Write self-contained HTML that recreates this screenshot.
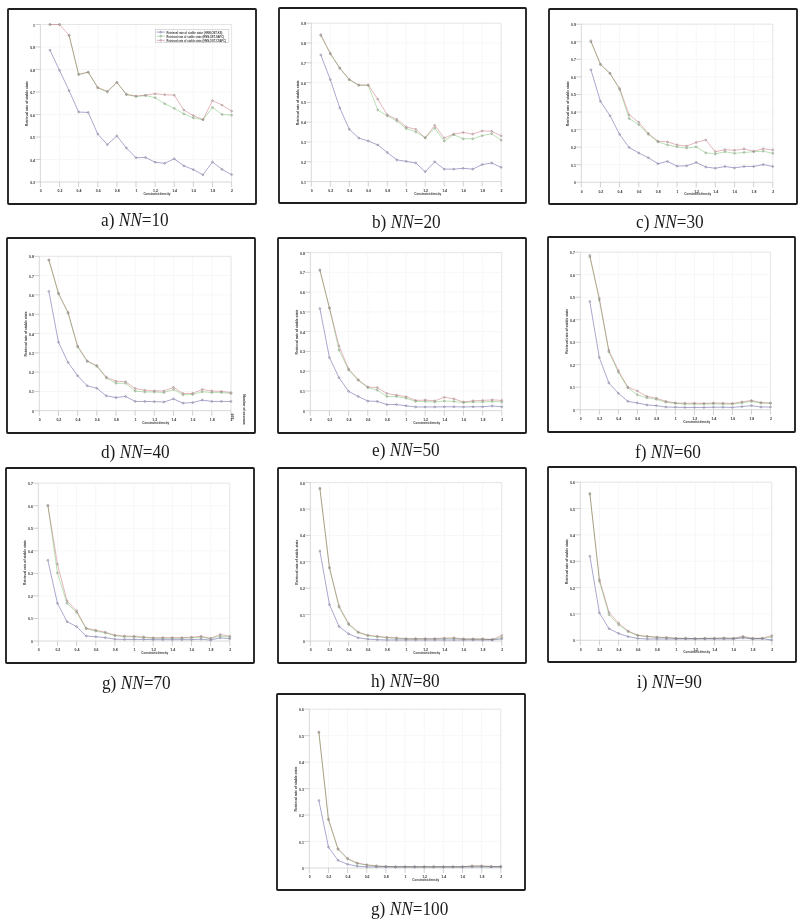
<!DOCTYPE html>
<html><head><meta charset="utf-8"><style>
html,body{margin:0;padding:0;background:#fff}
body{width:803px;height:922px;position:relative;overflow:hidden}
svg{position:absolute;left:0;top:0;will-change:transform}
.gr{stroke:#f7f7f7;stroke-width:1;fill:none}
.ax{stroke:#d4d4d4;stroke-width:0.9;fill:none}
.bx{stroke:#e6e6e6;stroke-width:1;fill:none}
.tk{stroke:#c4c4c4;stroke-width:0.8;fill:none}
.tl{font-family:"Liberation Sans",sans-serif;font-weight:bold;font-size:3.5px;fill:#333}
.al{font-family:"Liberation Sans",sans-serif;font-weight:bold;font-size:3.35px;fill:#333}
.lg{font-family:"Liberation Sans",sans-serif;font-weight:bold;font-size:3.0px;fill:#3a3a3a}
.yl{font-family:"Liberation Sans",sans-serif;font-weight:bold;font-size:3.6px;fill:#333}
.ln{fill:none;stroke-width:1;stroke-linejoin:round;mix-blend-mode:multiply}
.ln.b{stroke:#aaa8d0} .ln.g{stroke:#b8e2b4} .ln.r{stroke:#e6b6bc}
.mk{fill:none;stroke-width:0.75}
.bm{stroke:#9090a4} .gm{stroke:#98a492} .rm{stroke:#a69a9a}
.fr{fill:none;stroke:#1f1f1f;stroke-width:1.85}
.cap{position:absolute;font-family:"Liberation Serif",serif;font-size:18px;line-height:18px;color:#1a1a1a;white-space:nowrap;margin-top:-2.5px;margin-left:-0.6px;transform:scaleX(0.958);transform-origin:0 0}
</style></head><body>
<svg width="803" height="922" viewBox="0 0 803 922">
<g>
<line x1="59.52" y1="24.5" x2="59.52" y2="182" class="gr"/>
<line x1="78.64" y1="24.5" x2="78.64" y2="182" class="gr"/>
<line x1="97.76" y1="24.5" x2="97.76" y2="182" class="gr"/>
<line x1="116.88" y1="24.5" x2="116.88" y2="182" class="gr"/>
<line x1="136" y1="24.5" x2="136" y2="182" class="gr"/>
<line x1="155.12" y1="24.5" x2="155.12" y2="182" class="gr"/>
<line x1="174.24" y1="24.5" x2="174.24" y2="182" class="gr"/>
<line x1="193.36" y1="24.5" x2="193.36" y2="182" class="gr"/>
<line x1="212.48" y1="24.5" x2="212.48" y2="182" class="gr"/>
<line x1="231.6" y1="24.5" x2="231.6" y2="182" class="gr"/>
<line x1="40.4" y1="159.5" x2="231.6" y2="159.5" class="gr"/>
<line x1="40.4" y1="137" x2="231.6" y2="137" class="gr"/>
<line x1="40.4" y1="114.5" x2="231.6" y2="114.5" class="gr"/>
<line x1="40.4" y1="92" x2="231.6" y2="92" class="gr"/>
<line x1="40.4" y1="69.5" x2="231.6" y2="69.5" class="gr"/>
<line x1="40.4" y1="47" x2="231.6" y2="47" class="gr"/>
<line x1="40.4" y1="24.5" x2="231.6" y2="24.5" class="gr"/>
<path d="M40.4 24.5H231.6V182" class="bx"/>
<path d="M40.4 24.5V182H231.6" class="ax"/>
<path d="M40.4 182v5M59.52 182v5M78.64 182v5M97.76 182v5M116.88 182v5M136 182v5M155.12 182v5M174.24 182v5M193.36 182v5M212.48 182v5M231.6 182v5M40.4 182h-5M40.4 159.5h-5M40.4 137h-5M40.4 114.5h-5M40.4 92h-5M40.4 69.5h-5M40.4 47h-5M40.4 24.5h-5" class="tk"/>
<text x="40.8" y="192.3" class="tl" text-anchor="middle">0</text>
<text x="59.92" y="192.3" class="tl" text-anchor="middle">0.2</text>
<text x="79.04" y="192.3" class="tl" text-anchor="middle">0.4</text>
<text x="98.16" y="192.3" class="tl" text-anchor="middle">0.6</text>
<text x="117.28" y="192.3" class="tl" text-anchor="middle">0.8</text>
<text x="136.4" y="192.3" class="tl" text-anchor="middle">1</text>
<text x="155.52" y="192.3" class="tl" text-anchor="middle">1.2</text>
<text x="174.64" y="192.3" class="tl" text-anchor="middle">1.4</text>
<text x="193.76" y="192.3" class="tl" text-anchor="middle">1.6</text>
<text x="212.88" y="192.3" class="tl" text-anchor="middle">1.8</text>
<text x="232" y="192.3" class="tl" text-anchor="middle">2</text>
<text x="35" y="184" class="tl" text-anchor="end">0.3</text>
<text x="35" y="161.5" class="tl" text-anchor="end">0.4</text>
<text x="35" y="139" class="tl" text-anchor="end">0.5</text>
<text x="35" y="116.5" class="tl" text-anchor="end">0.6</text>
<text x="35" y="94" class="tl" text-anchor="end">0.7</text>
<text x="35" y="71.5" class="tl" text-anchor="end">0.8</text>
<text x="35" y="49" class="tl" text-anchor="end">0.9</text>
<text x="35" y="26.5" class="tl" text-anchor="end">1</text>
<text x="156.9" y="195" class="al" text-anchor="middle" textLength="27" lengthAdjust="spacingAndGlyphs">Constraint density</text>
<text transform="translate(28.1,103.65) rotate(-90)" class="yl" text-anchor="middle" textLength="45" lengthAdjust="spacingAndGlyphs">Retrieval rate of stable state</text>
<polyline points="69.08,35.3 78.64,74.67 88.2,72.2 97.76,87.95 107.32,92 116.88,82.55 126.44,94.7 136,96.5 145.56,95.6 155.12,97.62 164.68,103.7 174.24,108.42 183.8,113.83 193.36,117.88 202.92,119.67 212.48,107.52 222.04,114.5 231.6,115.17" class="ln g"/>
<g class="mk gm"><circle cx="49.96" cy="24.5" r="0.9"/><circle cx="59.52" cy="24.5" r="0.9"/><circle cx="69.08" cy="35.3" r="0.9"/><circle cx="78.64" cy="74.67" r="0.9"/><circle cx="88.2" cy="72.2" r="0.9"/><circle cx="97.76" cy="87.95" r="0.9"/><circle cx="107.32" cy="92" r="0.9"/><circle cx="116.88" cy="82.55" r="0.9"/><circle cx="126.44" cy="94.7" r="0.9"/><circle cx="136" cy="96.5" r="0.9"/><circle cx="145.56" cy="95.6" r="0.9"/><circle cx="155.12" cy="97.62" r="0.9"/><circle cx="164.68" cy="103.7" r="0.9"/><circle cx="174.24" cy="108.42" r="0.9"/><circle cx="183.8" cy="113.83" r="0.9"/><circle cx="193.36" cy="117.88" r="0.9"/><circle cx="202.92" cy="119.67" r="0.9"/><circle cx="212.48" cy="107.52" r="0.9"/><circle cx="222.04" cy="114.5" r="0.9"/><circle cx="231.6" cy="115.17" r="0.9"/></g>
<polyline points="49.96,24.5 59.52,24.5 69.08,35.3 78.64,74.22 88.2,72.2 97.76,87.5 107.32,91.33 116.88,82.33 126.44,94.25 136,96.05 145.56,95.15 155.12,93.8 164.68,94.7 174.24,95.15 183.8,110 193.36,115.62 202.92,119.67 212.48,100.55 222.04,105.05 231.6,111.12" class="ln r"/>
<g class="mk rm"><circle cx="49.96" cy="24.5" r="0.9"/><circle cx="59.52" cy="24.5" r="0.9"/><circle cx="69.08" cy="35.3" r="0.9"/><circle cx="78.64" cy="74.22" r="0.9"/><circle cx="88.2" cy="72.2" r="0.9"/><circle cx="97.76" cy="87.5" r="0.9"/><circle cx="107.32" cy="91.33" r="0.9"/><circle cx="116.88" cy="82.33" r="0.9"/><circle cx="126.44" cy="94.25" r="0.9"/><circle cx="136" cy="96.05" r="0.9"/><circle cx="145.56" cy="95.15" r="0.9"/><circle cx="155.12" cy="93.8" r="0.9"/><circle cx="164.68" cy="94.7" r="0.9"/><circle cx="174.24" cy="95.15" r="0.9"/><circle cx="183.8" cy="110" r="0.9"/><circle cx="193.36" cy="115.62" r="0.9"/><circle cx="202.92" cy="119.67" r="0.9"/><circle cx="212.48" cy="100.55" r="0.9"/><circle cx="222.04" cy="105.05" r="0.9"/><circle cx="231.6" cy="111.12" r="0.9"/></g>
<polyline points="49.96,50.15 59.52,70.4 69.08,90.65 78.64,112.02 88.2,112.47 97.76,134.07 107.32,144.65 116.88,135.88 126.44,148.02 136,157.7 145.56,157.47 155.12,162.2 164.68,163.32 174.24,158.82 183.8,165.8 193.36,169.62 202.92,174.8 212.48,161.97 222.04,169.4 231.6,174.57" class="ln b"/>
<g class="mk bm"><circle cx="49.96" cy="50.15" r="0.9"/><circle cx="59.52" cy="70.4" r="0.9"/><circle cx="69.08" cy="90.65" r="0.9"/><circle cx="78.64" cy="112.02" r="0.9"/><circle cx="88.2" cy="112.47" r="0.9"/><circle cx="97.76" cy="134.07" r="0.9"/><circle cx="107.32" cy="144.65" r="0.9"/><circle cx="116.88" cy="135.88" r="0.9"/><circle cx="126.44" cy="148.02" r="0.9"/><circle cx="136" cy="157.7" r="0.9"/><circle cx="145.56" cy="157.47" r="0.9"/><circle cx="155.12" cy="162.2" r="0.9"/><circle cx="164.68" cy="163.32" r="0.9"/><circle cx="174.24" cy="158.82" r="0.9"/><circle cx="183.8" cy="165.8" r="0.9"/><circle cx="193.36" cy="169.62" r="0.9"/><circle cx="202.92" cy="174.8" r="0.9"/><circle cx="212.48" cy="161.97" r="0.9"/><circle cx="222.04" cy="169.4" r="0.9"/><circle cx="231.6" cy="174.57" r="0.9"/></g>
<line x1="330.29" y1="23.2" x2="330.29" y2="181.6" class="gr"/>
<line x1="349.28" y1="23.2" x2="349.28" y2="181.6" class="gr"/>
<line x1="368.27" y1="23.2" x2="368.27" y2="181.6" class="gr"/>
<line x1="387.26" y1="23.2" x2="387.26" y2="181.6" class="gr"/>
<line x1="406.25" y1="23.2" x2="406.25" y2="181.6" class="gr"/>
<line x1="425.24" y1="23.2" x2="425.24" y2="181.6" class="gr"/>
<line x1="444.23" y1="23.2" x2="444.23" y2="181.6" class="gr"/>
<line x1="463.22" y1="23.2" x2="463.22" y2="181.6" class="gr"/>
<line x1="482.21" y1="23.2" x2="482.21" y2="181.6" class="gr"/>
<line x1="501.2" y1="23.2" x2="501.2" y2="181.6" class="gr"/>
<line x1="311.3" y1="161.8" x2="501.2" y2="161.8" class="gr"/>
<line x1="311.3" y1="142" x2="501.2" y2="142" class="gr"/>
<line x1="311.3" y1="122.2" x2="501.2" y2="122.2" class="gr"/>
<line x1="311.3" y1="102.4" x2="501.2" y2="102.4" class="gr"/>
<line x1="311.3" y1="82.6" x2="501.2" y2="82.6" class="gr"/>
<line x1="311.3" y1="62.8" x2="501.2" y2="62.8" class="gr"/>
<line x1="311.3" y1="43" x2="501.2" y2="43" class="gr"/>
<line x1="311.3" y1="23.2" x2="501.2" y2="23.2" class="gr"/>
<path d="M311.3 23.2H501.2V181.6" class="bx"/>
<path d="M311.3 23.2V181.6H501.2" class="ax"/>
<path d="M311.3 181.6v5M330.29 181.6v5M349.28 181.6v5M368.27 181.6v5M387.26 181.6v5M406.25 181.6v5M425.24 181.6v5M444.23 181.6v5M463.22 181.6v5M482.21 181.6v5M501.2 181.6v5M311.3 181.6h-5M311.3 161.8h-5M311.3 142h-5M311.3 122.2h-5M311.3 102.4h-5M311.3 82.6h-5M311.3 62.8h-5M311.3 43h-5M311.3 23.2h-5" class="tk"/>
<text x="311.7" y="191.9" class="tl" text-anchor="middle">0</text>
<text x="330.69" y="191.9" class="tl" text-anchor="middle">0.2</text>
<text x="349.68" y="191.9" class="tl" text-anchor="middle">0.4</text>
<text x="368.67" y="191.9" class="tl" text-anchor="middle">0.6</text>
<text x="387.66" y="191.9" class="tl" text-anchor="middle">0.8</text>
<text x="406.65" y="191.9" class="tl" text-anchor="middle">1</text>
<text x="425.64" y="191.9" class="tl" text-anchor="middle">1.2</text>
<text x="444.63" y="191.9" class="tl" text-anchor="middle">1.4</text>
<text x="463.62" y="191.9" class="tl" text-anchor="middle">1.6</text>
<text x="482.61" y="191.9" class="tl" text-anchor="middle">1.8</text>
<text x="501.6" y="191.9" class="tl" text-anchor="middle">2</text>
<text x="305.9" y="183.6" class="tl" text-anchor="end">0.1</text>
<text x="305.9" y="163.8" class="tl" text-anchor="end">0.2</text>
<text x="305.9" y="144" class="tl" text-anchor="end">0.3</text>
<text x="305.9" y="124.2" class="tl" text-anchor="end">0.4</text>
<text x="305.9" y="104.4" class="tl" text-anchor="end">0.5</text>
<text x="305.9" y="84.6" class="tl" text-anchor="end">0.6</text>
<text x="305.9" y="64.8" class="tl" text-anchor="end">0.7</text>
<text x="305.9" y="45" class="tl" text-anchor="end">0.8</text>
<text x="305.9" y="25.2" class="tl" text-anchor="end">0.9</text>
<text x="427.8" y="194.6" class="al" text-anchor="middle" textLength="27" lengthAdjust="spacingAndGlyphs">Constraint density</text>
<text transform="translate(299,102.8) rotate(-90)" class="yl" text-anchor="middle" textLength="45" lengthAdjust="spacingAndGlyphs">Retrieval rate of stable state</text>
<polyline points="320.8,35.48 330.29,53.89 339.79,68.34 349.28,79.83 358.77,85.37 368.27,85.37 377.76,109.92 387.26,115.86 396.75,121.01 406.25,128.54 415.75,131.9 425.24,137.84 434.74,128.14 444.23,141.21 453.73,134.67 463.22,138.83 472.72,138.83 482.21,135.66 491.71,133.68 501.2,140.22" class="ln g"/>
<g class="mk gm"><circle cx="320.8" cy="35.48" r="0.9"/><circle cx="330.29" cy="53.89" r="0.9"/><circle cx="339.79" cy="68.34" r="0.9"/><circle cx="349.28" cy="79.83" r="0.9"/><circle cx="358.77" cy="85.37" r="0.9"/><circle cx="368.27" cy="85.37" r="0.9"/><circle cx="377.76" cy="109.92" r="0.9"/><circle cx="387.26" cy="115.86" r="0.9"/><circle cx="396.75" cy="121.01" r="0.9"/><circle cx="406.25" cy="128.54" r="0.9"/><circle cx="415.75" cy="131.9" r="0.9"/><circle cx="425.24" cy="137.84" r="0.9"/><circle cx="434.74" cy="128.14" r="0.9"/><circle cx="444.23" cy="141.21" r="0.9"/><circle cx="453.73" cy="134.67" r="0.9"/><circle cx="463.22" cy="138.83" r="0.9"/><circle cx="472.72" cy="138.83" r="0.9"/><circle cx="482.21" cy="135.66" r="0.9"/><circle cx="491.71" cy="133.68" r="0.9"/><circle cx="501.2" cy="140.22" r="0.9"/></g>
<polyline points="320.8,34.68 330.29,53.3 339.79,67.95 349.28,79.43 358.77,84.98 368.27,84.98 377.76,99.23 387.26,114.87 396.75,119.23 406.25,126.95 415.75,129.33 425.24,137.84 434.74,125.37 444.23,138.04 453.73,134.08 463.22,132.5 472.72,134.08 482.21,130.91 491.71,131.31 501.2,135.86" class="ln r"/>
<g class="mk rm"><circle cx="320.8" cy="34.68" r="0.9"/><circle cx="330.29" cy="53.3" r="0.9"/><circle cx="339.79" cy="67.95" r="0.9"/><circle cx="349.28" cy="79.43" r="0.9"/><circle cx="358.77" cy="84.98" r="0.9"/><circle cx="368.27" cy="84.98" r="0.9"/><circle cx="377.76" cy="99.23" r="0.9"/><circle cx="387.26" cy="114.87" r="0.9"/><circle cx="396.75" cy="119.23" r="0.9"/><circle cx="406.25" cy="126.95" r="0.9"/><circle cx="415.75" cy="129.33" r="0.9"/><circle cx="425.24" cy="137.84" r="0.9"/><circle cx="434.74" cy="125.37" r="0.9"/><circle cx="444.23" cy="138.04" r="0.9"/><circle cx="453.73" cy="134.08" r="0.9"/><circle cx="463.22" cy="132.5" r="0.9"/><circle cx="472.72" cy="134.08" r="0.9"/><circle cx="482.21" cy="130.91" r="0.9"/><circle cx="491.71" cy="131.31" r="0.9"/><circle cx="501.2" cy="135.86" r="0.9"/></g>
<polyline points="320.8,54.88 330.29,79.63 339.79,107.94 349.28,129.33 358.77,138.04 368.27,141.01 377.76,144.97 387.26,152.49 396.75,159.82 406.25,161.4 415.75,162.99 425.24,171.7 434.74,161.8 444.23,169.13 453.73,169.13 463.22,168.33 472.72,169.13 482.21,164.57 491.71,162.99 501.2,167.34" class="ln b"/>
<g class="mk bm"><circle cx="320.8" cy="54.88" r="0.9"/><circle cx="330.29" cy="79.63" r="0.9"/><circle cx="339.79" cy="107.94" r="0.9"/><circle cx="349.28" cy="129.33" r="0.9"/><circle cx="358.77" cy="138.04" r="0.9"/><circle cx="368.27" cy="141.01" r="0.9"/><circle cx="377.76" cy="144.97" r="0.9"/><circle cx="387.26" cy="152.49" r="0.9"/><circle cx="396.75" cy="159.82" r="0.9"/><circle cx="406.25" cy="161.4" r="0.9"/><circle cx="415.75" cy="162.99" r="0.9"/><circle cx="425.24" cy="171.7" r="0.9"/><circle cx="434.74" cy="161.8" r="0.9"/><circle cx="444.23" cy="169.13" r="0.9"/><circle cx="453.73" cy="169.13" r="0.9"/><circle cx="463.22" cy="168.33" r="0.9"/><circle cx="472.72" cy="169.13" r="0.9"/><circle cx="482.21" cy="164.57" r="0.9"/><circle cx="491.71" cy="162.99" r="0.9"/><circle cx="501.2" cy="167.34" r="0.9"/></g>
<line x1="600.45" y1="24.2" x2="600.45" y2="182.3" class="gr"/>
<line x1="619.6" y1="24.2" x2="619.6" y2="182.3" class="gr"/>
<line x1="638.75" y1="24.2" x2="638.75" y2="182.3" class="gr"/>
<line x1="657.9" y1="24.2" x2="657.9" y2="182.3" class="gr"/>
<line x1="677.05" y1="24.2" x2="677.05" y2="182.3" class="gr"/>
<line x1="696.2" y1="24.2" x2="696.2" y2="182.3" class="gr"/>
<line x1="715.35" y1="24.2" x2="715.35" y2="182.3" class="gr"/>
<line x1="734.5" y1="24.2" x2="734.5" y2="182.3" class="gr"/>
<line x1="753.65" y1="24.2" x2="753.65" y2="182.3" class="gr"/>
<line x1="772.8" y1="24.2" x2="772.8" y2="182.3" class="gr"/>
<line x1="581.3" y1="164.73" x2="772.8" y2="164.73" class="gr"/>
<line x1="581.3" y1="147.17" x2="772.8" y2="147.17" class="gr"/>
<line x1="581.3" y1="129.6" x2="772.8" y2="129.6" class="gr"/>
<line x1="581.3" y1="112.03" x2="772.8" y2="112.03" class="gr"/>
<line x1="581.3" y1="94.47" x2="772.8" y2="94.47" class="gr"/>
<line x1="581.3" y1="76.9" x2="772.8" y2="76.9" class="gr"/>
<line x1="581.3" y1="59.33" x2="772.8" y2="59.33" class="gr"/>
<line x1="581.3" y1="41.77" x2="772.8" y2="41.77" class="gr"/>
<line x1="581.3" y1="24.2" x2="772.8" y2="24.2" class="gr"/>
<path d="M581.3 24.2H772.8V182.3" class="bx"/>
<path d="M581.3 24.2V182.3H772.8" class="ax"/>
<path d="M581.3 182.3v5M600.45 182.3v5M619.6 182.3v5M638.75 182.3v5M657.9 182.3v5M677.05 182.3v5M696.2 182.3v5M715.35 182.3v5M734.5 182.3v5M753.65 182.3v5M772.8 182.3v5M581.3 182.3h-5M581.3 164.73h-5M581.3 147.17h-5M581.3 129.6h-5M581.3 112.03h-5M581.3 94.47h-5M581.3 76.9h-5M581.3 59.33h-5M581.3 41.77h-5M581.3 24.2h-5" class="tk"/>
<text x="581.7" y="192.6" class="tl" text-anchor="middle">0</text>
<text x="600.85" y="192.6" class="tl" text-anchor="middle">0.2</text>
<text x="620" y="192.6" class="tl" text-anchor="middle">0.4</text>
<text x="639.15" y="192.6" class="tl" text-anchor="middle">0.6</text>
<text x="658.3" y="192.6" class="tl" text-anchor="middle">0.8</text>
<text x="677.45" y="192.6" class="tl" text-anchor="middle">1</text>
<text x="696.6" y="192.6" class="tl" text-anchor="middle">1.2</text>
<text x="715.75" y="192.6" class="tl" text-anchor="middle">1.4</text>
<text x="734.9" y="192.6" class="tl" text-anchor="middle">1.6</text>
<text x="754.05" y="192.6" class="tl" text-anchor="middle">1.8</text>
<text x="773.2" y="192.6" class="tl" text-anchor="middle">2</text>
<text x="575.9" y="184.3" class="tl" text-anchor="end">0</text>
<text x="575.9" y="166.73" class="tl" text-anchor="end">0.1</text>
<text x="575.9" y="149.17" class="tl" text-anchor="end">0.2</text>
<text x="575.9" y="131.6" class="tl" text-anchor="end">0.3</text>
<text x="575.9" y="114.03" class="tl" text-anchor="end">0.4</text>
<text x="575.9" y="96.47" class="tl" text-anchor="end">0.5</text>
<text x="575.9" y="78.9" class="tl" text-anchor="end">0.6</text>
<text x="575.9" y="61.33" class="tl" text-anchor="end">0.7</text>
<text x="575.9" y="43.77" class="tl" text-anchor="end">0.8</text>
<text x="575.9" y="26.2" class="tl" text-anchor="end">0.9</text>
<text x="697.8" y="195.3" class="al" text-anchor="middle" textLength="27" lengthAdjust="spacingAndGlyphs">Constraint density</text>
<text transform="translate(569,103.65) rotate(-90)" class="yl" text-anchor="middle" textLength="45" lengthAdjust="spacingAndGlyphs">Retrieval rate of stable state</text>
<polyline points="590.88,41.77 600.45,64.6 610.02,73.39 619.6,89.55 629.17,118.53 638.75,124.68 648.32,134.34 657.9,141.9 667.47,144.88 677.05,146.82 686.62,148.05 696.2,146.82 705.77,152.79 715.35,154.02 724.92,151.73 734.5,153.31 744.07,152.44 753.65,151.73 763.22,151.21 772.8,153.31" class="ln g"/>
<g class="mk gm"><circle cx="590.88" cy="41.77" r="0.9"/><circle cx="600.45" cy="64.6" r="0.9"/><circle cx="610.02" cy="73.39" r="0.9"/><circle cx="619.6" cy="89.55" r="0.9"/><circle cx="629.17" cy="118.53" r="0.9"/><circle cx="638.75" cy="124.68" r="0.9"/><circle cx="648.32" cy="134.34" r="0.9"/><circle cx="657.9" cy="141.9" r="0.9"/><circle cx="667.47" cy="144.88" r="0.9"/><circle cx="677.05" cy="146.82" r="0.9"/><circle cx="686.62" cy="148.05" r="0.9"/><circle cx="696.2" cy="146.82" r="0.9"/><circle cx="705.77" cy="152.79" r="0.9"/><circle cx="715.35" cy="154.02" r="0.9"/><circle cx="724.92" cy="151.73" r="0.9"/><circle cx="734.5" cy="153.31" r="0.9"/><circle cx="744.07" cy="152.44" r="0.9"/><circle cx="753.65" cy="151.73" r="0.9"/><circle cx="763.22" cy="151.21" r="0.9"/><circle cx="772.8" cy="153.31" r="0.9"/></g>
<polyline points="590.88,40.71 600.45,64.08 610.02,73.39 619.6,88.32 629.17,114.84 638.75,122.22 648.32,133.46 657.9,141.19 667.47,141.9 677.05,144.88 686.62,146.11 696.2,142.42 705.77,139.96 715.35,151.73 724.92,149.63 734.5,150.33 744.07,148.92 753.65,151.21 763.22,148.75 772.8,149.98" class="ln r"/>
<g class="mk rm"><circle cx="590.88" cy="40.71" r="0.9"/><circle cx="600.45" cy="64.08" r="0.9"/><circle cx="610.02" cy="73.39" r="0.9"/><circle cx="619.6" cy="88.32" r="0.9"/><circle cx="629.17" cy="114.84" r="0.9"/><circle cx="638.75" cy="122.22" r="0.9"/><circle cx="648.32" cy="133.46" r="0.9"/><circle cx="657.9" cy="141.19" r="0.9"/><circle cx="667.47" cy="141.9" r="0.9"/><circle cx="677.05" cy="144.88" r="0.9"/><circle cx="686.62" cy="146.11" r="0.9"/><circle cx="696.2" cy="142.42" r="0.9"/><circle cx="705.77" cy="139.96" r="0.9"/><circle cx="715.35" cy="151.73" r="0.9"/><circle cx="724.92" cy="149.63" r="0.9"/><circle cx="734.5" cy="150.33" r="0.9"/><circle cx="744.07" cy="148.92" r="0.9"/><circle cx="753.65" cy="151.21" r="0.9"/><circle cx="763.22" cy="148.75" r="0.9"/><circle cx="772.8" cy="149.98" r="0.9"/></g>
<polyline points="590.88,69.7 600.45,101.32 610.02,115.72 619.6,134.34 629.17,147.52 638.75,152.96 648.32,157.71 657.9,163.68 667.47,161.4 677.05,166.14 686.62,165.79 696.2,162.45 705.77,167.02 715.35,168.25 724.92,166.49 734.5,167.9 744.07,166.49 753.65,166.49 763.22,164.56 772.8,166.49" class="ln b"/>
<g class="mk bm"><circle cx="590.88" cy="69.7" r="0.9"/><circle cx="600.45" cy="101.32" r="0.9"/><circle cx="610.02" cy="115.72" r="0.9"/><circle cx="619.6" cy="134.34" r="0.9"/><circle cx="629.17" cy="147.52" r="0.9"/><circle cx="638.75" cy="152.96" r="0.9"/><circle cx="648.32" cy="157.71" r="0.9"/><circle cx="657.9" cy="163.68" r="0.9"/><circle cx="667.47" cy="161.4" r="0.9"/><circle cx="677.05" cy="166.14" r="0.9"/><circle cx="686.62" cy="165.79" r="0.9"/><circle cx="696.2" cy="162.45" r="0.9"/><circle cx="705.77" cy="167.02" r="0.9"/><circle cx="715.35" cy="168.25" r="0.9"/><circle cx="724.92" cy="166.49" r="0.9"/><circle cx="734.5" cy="167.9" r="0.9"/><circle cx="744.07" cy="166.49" r="0.9"/><circle cx="753.65" cy="166.49" r="0.9"/><circle cx="763.22" cy="164.56" r="0.9"/><circle cx="772.8" cy="166.49" r="0.9"/></g>
<line x1="58.47" y1="256.3" x2="58.47" y2="410.7" class="gr"/>
<line x1="77.64" y1="256.3" x2="77.64" y2="410.7" class="gr"/>
<line x1="96.81" y1="256.3" x2="96.81" y2="410.7" class="gr"/>
<line x1="115.98" y1="256.3" x2="115.98" y2="410.7" class="gr"/>
<line x1="135.15" y1="256.3" x2="135.15" y2="410.7" class="gr"/>
<line x1="154.32" y1="256.3" x2="154.32" y2="410.7" class="gr"/>
<line x1="173.49" y1="256.3" x2="173.49" y2="410.7" class="gr"/>
<line x1="192.66" y1="256.3" x2="192.66" y2="410.7" class="gr"/>
<line x1="211.83" y1="256.3" x2="211.83" y2="410.7" class="gr"/>
<line x1="231" y1="256.3" x2="231" y2="410.7" class="gr"/>
<line x1="39.3" y1="391.4" x2="231" y2="391.4" class="gr"/>
<line x1="39.3" y1="372.1" x2="231" y2="372.1" class="gr"/>
<line x1="39.3" y1="352.8" x2="231" y2="352.8" class="gr"/>
<line x1="39.3" y1="333.5" x2="231" y2="333.5" class="gr"/>
<line x1="39.3" y1="314.2" x2="231" y2="314.2" class="gr"/>
<line x1="39.3" y1="294.9" x2="231" y2="294.9" class="gr"/>
<line x1="39.3" y1="275.6" x2="231" y2="275.6" class="gr"/>
<line x1="39.3" y1="256.3" x2="231" y2="256.3" class="gr"/>
<path d="M39.3 256.3H231V410.7" class="bx"/>
<path d="M39.3 256.3V410.7H231" class="ax"/>
<path d="M39.3 410.7v5M58.47 410.7v5M77.64 410.7v5M96.81 410.7v5M115.98 410.7v5M135.15 410.7v5M154.32 410.7v5M173.49 410.7v5M192.66 410.7v5M211.83 410.7v5M231 410.7v5M39.3 410.7h-5M39.3 391.4h-5M39.3 372.1h-5M39.3 352.8h-5M39.3 333.5h-5M39.3 314.2h-5M39.3 294.9h-5M39.3 275.6h-5M39.3 256.3h-5" class="tk"/>
<text x="39.7" y="421" class="tl" text-anchor="middle">0</text>
<text x="58.87" y="421" class="tl" text-anchor="middle">0.2</text>
<text x="78.04" y="421" class="tl" text-anchor="middle">0.4</text>
<text x="97.21" y="421" class="tl" text-anchor="middle">0.6</text>
<text x="116.38" y="421" class="tl" text-anchor="middle">0.8</text>
<text x="135.55" y="421" class="tl" text-anchor="middle">1</text>
<text x="154.72" y="421" class="tl" text-anchor="middle">1.2</text>
<text x="173.89" y="421" class="tl" text-anchor="middle">1.4</text>
<text x="193.06" y="421" class="tl" text-anchor="middle">1.6</text>
<text x="212.23" y="421" class="tl" text-anchor="middle">1.8</text>
<text x="231.4" y="421" class="tl" text-anchor="middle">2</text>
<text x="33.9" y="412.7" class="tl" text-anchor="end">0</text>
<text x="33.9" y="393.4" class="tl" text-anchor="end">0.1</text>
<text x="33.9" y="374.1" class="tl" text-anchor="end">0.2</text>
<text x="33.9" y="354.8" class="tl" text-anchor="end">0.3</text>
<text x="33.9" y="335.5" class="tl" text-anchor="end">0.4</text>
<text x="33.9" y="316.2" class="tl" text-anchor="end">0.5</text>
<text x="33.9" y="296.9" class="tl" text-anchor="end">0.6</text>
<text x="33.9" y="277.6" class="tl" text-anchor="end">0.7</text>
<text x="33.9" y="258.3" class="tl" text-anchor="end">0.8</text>
<text x="155.8" y="423.7" class="al" text-anchor="middle" textLength="27" lengthAdjust="spacingAndGlyphs">Constraint density</text>
<text transform="translate(27,333.9) rotate(-90)" class="yl" text-anchor="middle" textLength="45" lengthAdjust="spacingAndGlyphs">Retrieval rate of stable state</text>
<polyline points="48.88,260.16 58.47,293.94 68.06,313.24 77.64,347.01 87.22,361.49 96.81,366.31 106.39,378.08 115.98,383.29 125.56,383.29 135.15,391.01 144.74,391.98 154.32,391.98 163.9,392.56 173.49,389.47 183.07,394.87 192.66,394.49 202.25,391.79 211.83,392.56 221.42,392.56 231,393.52" class="ln g"/>
<g class="mk gm"><circle cx="48.88" cy="260.16" r="0.9"/><circle cx="58.47" cy="293.94" r="0.9"/><circle cx="68.06" cy="313.24" r="0.9"/><circle cx="77.64" cy="347.01" r="0.9"/><circle cx="87.22" cy="361.49" r="0.9"/><circle cx="96.81" cy="366.31" r="0.9"/><circle cx="106.39" cy="378.08" r="0.9"/><circle cx="115.98" cy="383.29" r="0.9"/><circle cx="125.56" cy="383.29" r="0.9"/><circle cx="135.15" cy="391.01" r="0.9"/><circle cx="144.74" cy="391.98" r="0.9"/><circle cx="154.32" cy="391.98" r="0.9"/><circle cx="163.9" cy="392.56" r="0.9"/><circle cx="173.49" cy="389.47" r="0.9"/><circle cx="183.07" cy="394.87" r="0.9"/><circle cx="192.66" cy="394.49" r="0.9"/><circle cx="202.25" cy="391.79" r="0.9"/><circle cx="211.83" cy="392.56" r="0.9"/><circle cx="221.42" cy="392.56" r="0.9"/><circle cx="231" cy="393.52" r="0.9"/></g>
<polyline points="48.88,259.77 58.47,292.97 68.06,312.27 77.64,346.05 87.22,360.91 96.81,365.54 106.39,377.12 115.98,381.17 125.56,381.75 135.15,388.5 144.74,390.24 154.32,390.82 163.9,391.01 173.49,387.35 183.07,393.52 192.66,393.33 202.25,389.47 211.83,391.01 221.42,391.4 231,392.56" class="ln r"/>
<g class="mk rm"><circle cx="48.88" cy="259.77" r="0.9"/><circle cx="58.47" cy="292.97" r="0.9"/><circle cx="68.06" cy="312.27" r="0.9"/><circle cx="77.64" cy="346.05" r="0.9"/><circle cx="87.22" cy="360.91" r="0.9"/><circle cx="96.81" cy="365.54" r="0.9"/><circle cx="106.39" cy="377.12" r="0.9"/><circle cx="115.98" cy="381.17" r="0.9"/><circle cx="125.56" cy="381.75" r="0.9"/><circle cx="135.15" cy="388.5" r="0.9"/><circle cx="144.74" cy="390.24" r="0.9"/><circle cx="154.32" cy="390.82" r="0.9"/><circle cx="163.9" cy="391.01" r="0.9"/><circle cx="173.49" cy="387.35" r="0.9"/><circle cx="183.07" cy="393.52" r="0.9"/><circle cx="192.66" cy="393.33" r="0.9"/><circle cx="202.25" cy="389.47" r="0.9"/><circle cx="211.83" cy="391.01" r="0.9"/><circle cx="221.42" cy="391.4" r="0.9"/><circle cx="231" cy="392.56" r="0.9"/></g>
<polyline points="48.88,291.43 58.47,342.19 68.06,362.45 77.64,375.77 87.22,385.8 96.81,388.31 106.39,395.84 115.98,397.58 125.56,396.42 135.15,401.44 144.74,401.44 154.32,401.63 163.9,402.01 173.49,398.93 183.07,403.17 192.66,402.59 202.25,400.08 211.83,401.44 221.42,401.44 231,401.44" class="ln b"/>
<g class="mk bm"><circle cx="48.88" cy="291.43" r="0.9"/><circle cx="58.47" cy="342.19" r="0.9"/><circle cx="68.06" cy="362.45" r="0.9"/><circle cx="77.64" cy="375.77" r="0.9"/><circle cx="87.22" cy="385.8" r="0.9"/><circle cx="96.81" cy="388.31" r="0.9"/><circle cx="106.39" cy="395.84" r="0.9"/><circle cx="115.98" cy="397.58" r="0.9"/><circle cx="125.56" cy="396.42" r="0.9"/><circle cx="135.15" cy="401.44" r="0.9"/><circle cx="144.74" cy="401.44" r="0.9"/><circle cx="154.32" cy="401.63" r="0.9"/><circle cx="163.9" cy="402.01" r="0.9"/><circle cx="173.49" cy="398.93" r="0.9"/><circle cx="183.07" cy="403.17" r="0.9"/><circle cx="192.66" cy="402.59" r="0.9"/><circle cx="202.25" cy="400.08" r="0.9"/><circle cx="211.83" cy="401.44" r="0.9"/><circle cx="221.42" cy="401.44" r="0.9"/><circle cx="231" cy="401.44" r="0.9"/></g>
<line x1="329.45" y1="252.6" x2="329.45" y2="410.7" class="gr"/>
<line x1="348.6" y1="252.6" x2="348.6" y2="410.7" class="gr"/>
<line x1="367.75" y1="252.6" x2="367.75" y2="410.7" class="gr"/>
<line x1="386.9" y1="252.6" x2="386.9" y2="410.7" class="gr"/>
<line x1="406.05" y1="252.6" x2="406.05" y2="410.7" class="gr"/>
<line x1="425.2" y1="252.6" x2="425.2" y2="410.7" class="gr"/>
<line x1="444.35" y1="252.6" x2="444.35" y2="410.7" class="gr"/>
<line x1="463.5" y1="252.6" x2="463.5" y2="410.7" class="gr"/>
<line x1="482.65" y1="252.6" x2="482.65" y2="410.7" class="gr"/>
<line x1="501.8" y1="252.6" x2="501.8" y2="410.7" class="gr"/>
<line x1="310.3" y1="390.94" x2="501.8" y2="390.94" class="gr"/>
<line x1="310.3" y1="371.18" x2="501.8" y2="371.18" class="gr"/>
<line x1="310.3" y1="351.41" x2="501.8" y2="351.41" class="gr"/>
<line x1="310.3" y1="331.65" x2="501.8" y2="331.65" class="gr"/>
<line x1="310.3" y1="311.89" x2="501.8" y2="311.89" class="gr"/>
<line x1="310.3" y1="292.12" x2="501.8" y2="292.12" class="gr"/>
<line x1="310.3" y1="272.36" x2="501.8" y2="272.36" class="gr"/>
<line x1="310.3" y1="252.6" x2="501.8" y2="252.6" class="gr"/>
<path d="M310.3 252.6H501.8V410.7" class="bx"/>
<path d="M310.3 252.6V410.7H501.8" class="ax"/>
<path d="M310.3 410.7v5M329.45 410.7v5M348.6 410.7v5M367.75 410.7v5M386.9 410.7v5M406.05 410.7v5M425.2 410.7v5M444.35 410.7v5M463.5 410.7v5M482.65 410.7v5M501.8 410.7v5M310.3 410.7h-5M310.3 390.94h-5M310.3 371.18h-5M310.3 351.41h-5M310.3 331.65h-5M310.3 311.89h-5M310.3 292.12h-5M310.3 272.36h-5M310.3 252.6h-5" class="tk"/>
<text x="310.7" y="421" class="tl" text-anchor="middle">0</text>
<text x="329.85" y="421" class="tl" text-anchor="middle">0.2</text>
<text x="349" y="421" class="tl" text-anchor="middle">0.4</text>
<text x="368.15" y="421" class="tl" text-anchor="middle">0.6</text>
<text x="387.3" y="421" class="tl" text-anchor="middle">0.8</text>
<text x="406.45" y="421" class="tl" text-anchor="middle">1</text>
<text x="425.6" y="421" class="tl" text-anchor="middle">1.2</text>
<text x="444.75" y="421" class="tl" text-anchor="middle">1.4</text>
<text x="463.9" y="421" class="tl" text-anchor="middle">1.6</text>
<text x="483.05" y="421" class="tl" text-anchor="middle">1.8</text>
<text x="502.2" y="421" class="tl" text-anchor="middle">2</text>
<text x="304.9" y="412.7" class="tl" text-anchor="end">0</text>
<text x="304.9" y="392.94" class="tl" text-anchor="end">0.1</text>
<text x="304.9" y="373.18" class="tl" text-anchor="end">0.2</text>
<text x="304.9" y="353.41" class="tl" text-anchor="end">0.3</text>
<text x="304.9" y="333.65" class="tl" text-anchor="end">0.4</text>
<text x="304.9" y="313.89" class="tl" text-anchor="end">0.5</text>
<text x="304.9" y="294.12" class="tl" text-anchor="end">0.6</text>
<text x="304.9" y="274.36" class="tl" text-anchor="end">0.7</text>
<text x="304.9" y="254.6" class="tl" text-anchor="end">0.8</text>
<text x="426.8" y="423.7" class="al" text-anchor="middle" textLength="27" lengthAdjust="spacingAndGlyphs">Constraint density</text>
<text transform="translate(298,332.05) rotate(-90)" class="yl" text-anchor="middle" textLength="45" lengthAdjust="spacingAndGlyphs">Retrieval rate of stable state</text>
<polyline points="319.88,270.39 329.45,307.94 339.03,350.03 348.6,369.99 358.18,380.27 367.75,387.58 377.33,390.15 386.9,396.47 396.48,396.47 406.05,398.25 415.62,401.41 425.2,401.41 434.78,402 444.35,401.02 453.93,401.41 463.5,402.6 473.08,402 482.65,402 492.23,401.41 501.8,402" class="ln g"/>
<g class="mk gm"><circle cx="319.88" cy="270.39" r="0.9"/><circle cx="329.45" cy="307.94" r="0.9"/><circle cx="339.03" cy="350.03" r="0.9"/><circle cx="348.6" cy="369.99" r="0.9"/><circle cx="358.18" cy="380.27" r="0.9"/><circle cx="367.75" cy="387.58" r="0.9"/><circle cx="377.33" cy="390.15" r="0.9"/><circle cx="386.9" cy="396.47" r="0.9"/><circle cx="396.48" cy="396.47" r="0.9"/><circle cx="406.05" cy="398.25" r="0.9"/><circle cx="415.62" cy="401.41" r="0.9"/><circle cx="425.2" cy="401.41" r="0.9"/><circle cx="434.78" cy="402" r="0.9"/><circle cx="444.35" cy="401.02" r="0.9"/><circle cx="453.93" cy="401.41" r="0.9"/><circle cx="463.5" cy="402.6" r="0.9"/><circle cx="473.08" cy="402" r="0.9"/><circle cx="482.65" cy="402" r="0.9"/><circle cx="492.23" cy="401.41" r="0.9"/><circle cx="501.8" cy="402" r="0.9"/></g>
<polyline points="319.88,269.79 329.45,307.94 339.03,345.88 348.6,369 358.18,379.67 367.75,386.99 377.33,387.58 386.9,393.51 396.48,395.09 406.05,396.67 415.62,400.42 425.2,400.03 434.78,400.82 444.35,397.26 453.93,398.84 463.5,402 473.08,400.82 482.65,400.42 492.23,399.83 501.8,400.42" class="ln r"/>
<g class="mk rm"><circle cx="319.88" cy="269.79" r="0.9"/><circle cx="329.45" cy="307.94" r="0.9"/><circle cx="339.03" cy="345.88" r="0.9"/><circle cx="348.6" cy="369" r="0.9"/><circle cx="358.18" cy="379.67" r="0.9"/><circle cx="367.75" cy="386.99" r="0.9"/><circle cx="377.33" cy="387.58" r="0.9"/><circle cx="386.9" cy="393.51" r="0.9"/><circle cx="396.48" cy="395.09" r="0.9"/><circle cx="406.05" cy="396.67" r="0.9"/><circle cx="415.62" cy="400.42" r="0.9"/><circle cx="425.2" cy="400.03" r="0.9"/><circle cx="434.78" cy="400.82" r="0.9"/><circle cx="444.35" cy="397.26" r="0.9"/><circle cx="453.93" cy="398.84" r="0.9"/><circle cx="463.5" cy="402" r="0.9"/><circle cx="473.08" cy="400.82" r="0.9"/><circle cx="482.65" cy="400.42" r="0.9"/><circle cx="492.23" cy="399.83" r="0.9"/><circle cx="501.8" cy="400.42" r="0.9"/></g>
<polyline points="319.88,308.53 329.45,357.54 339.03,377.7 348.6,391.33 358.18,396.47 367.75,401.02 377.33,401.41 386.9,404.57 396.48,404.57 406.05,405.76 415.62,406.95 425.2,406.95 434.78,406.95 444.35,406.75 453.93,406.75 463.5,406.95 473.08,406.75 482.65,406.75 492.23,405.96 501.8,406.75" class="ln b"/>
<g class="mk bm"><circle cx="319.88" cy="308.53" r="0.9"/><circle cx="329.45" cy="357.54" r="0.9"/><circle cx="339.03" cy="377.7" r="0.9"/><circle cx="348.6" cy="391.33" r="0.9"/><circle cx="358.18" cy="396.47" r="0.9"/><circle cx="367.75" cy="401.02" r="0.9"/><circle cx="377.33" cy="401.41" r="0.9"/><circle cx="386.9" cy="404.57" r="0.9"/><circle cx="396.48" cy="404.57" r="0.9"/><circle cx="406.05" cy="405.76" r="0.9"/><circle cx="415.62" cy="406.95" r="0.9"/><circle cx="425.2" cy="406.95" r="0.9"/><circle cx="434.78" cy="406.95" r="0.9"/><circle cx="444.35" cy="406.75" r="0.9"/><circle cx="453.93" cy="406.75" r="0.9"/><circle cx="463.5" cy="406.95" r="0.9"/><circle cx="473.08" cy="406.75" r="0.9"/><circle cx="482.65" cy="406.75" r="0.9"/><circle cx="492.23" cy="405.96" r="0.9"/><circle cx="501.8" cy="406.75" r="0.9"/></g>
<line x1="599.32" y1="252.2" x2="599.32" y2="409.7" class="gr"/>
<line x1="618.34" y1="252.2" x2="618.34" y2="409.7" class="gr"/>
<line x1="637.36" y1="252.2" x2="637.36" y2="409.7" class="gr"/>
<line x1="656.38" y1="252.2" x2="656.38" y2="409.7" class="gr"/>
<line x1="675.4" y1="252.2" x2="675.4" y2="409.7" class="gr"/>
<line x1="694.42" y1="252.2" x2="694.42" y2="409.7" class="gr"/>
<line x1="713.44" y1="252.2" x2="713.44" y2="409.7" class="gr"/>
<line x1="732.46" y1="252.2" x2="732.46" y2="409.7" class="gr"/>
<line x1="751.48" y1="252.2" x2="751.48" y2="409.7" class="gr"/>
<line x1="770.5" y1="252.2" x2="770.5" y2="409.7" class="gr"/>
<line x1="580.3" y1="387.2" x2="770.5" y2="387.2" class="gr"/>
<line x1="580.3" y1="364.7" x2="770.5" y2="364.7" class="gr"/>
<line x1="580.3" y1="342.2" x2="770.5" y2="342.2" class="gr"/>
<line x1="580.3" y1="319.7" x2="770.5" y2="319.7" class="gr"/>
<line x1="580.3" y1="297.2" x2="770.5" y2="297.2" class="gr"/>
<line x1="580.3" y1="274.7" x2="770.5" y2="274.7" class="gr"/>
<line x1="580.3" y1="252.2" x2="770.5" y2="252.2" class="gr"/>
<path d="M580.3 252.2H770.5V409.7" class="bx"/>
<path d="M580.3 252.2V409.7H770.5" class="ax"/>
<path d="M580.3 409.7v5M599.32 409.7v5M618.34 409.7v5M637.36 409.7v5M656.38 409.7v5M675.4 409.7v5M694.42 409.7v5M713.44 409.7v5M732.46 409.7v5M751.48 409.7v5M770.5 409.7v5M580.3 409.7h-5M580.3 387.2h-5M580.3 364.7h-5M580.3 342.2h-5M580.3 319.7h-5M580.3 297.2h-5M580.3 274.7h-5M580.3 252.2h-5" class="tk"/>
<text x="580.7" y="420" class="tl" text-anchor="middle">0</text>
<text x="599.72" y="420" class="tl" text-anchor="middle">0.2</text>
<text x="618.74" y="420" class="tl" text-anchor="middle">0.4</text>
<text x="637.76" y="420" class="tl" text-anchor="middle">0.6</text>
<text x="656.78" y="420" class="tl" text-anchor="middle">0.8</text>
<text x="675.8" y="420" class="tl" text-anchor="middle">1</text>
<text x="694.82" y="420" class="tl" text-anchor="middle">1.2</text>
<text x="713.84" y="420" class="tl" text-anchor="middle">1.4</text>
<text x="732.86" y="420" class="tl" text-anchor="middle">1.6</text>
<text x="751.88" y="420" class="tl" text-anchor="middle">1.8</text>
<text x="770.9" y="420" class="tl" text-anchor="middle">2</text>
<text x="574.9" y="411.7" class="tl" text-anchor="end">0</text>
<text x="574.9" y="389.2" class="tl" text-anchor="end">0.1</text>
<text x="574.9" y="366.7" class="tl" text-anchor="end">0.2</text>
<text x="574.9" y="344.2" class="tl" text-anchor="end">0.3</text>
<text x="574.9" y="321.7" class="tl" text-anchor="end">0.4</text>
<text x="574.9" y="299.2" class="tl" text-anchor="end">0.5</text>
<text x="574.9" y="276.7" class="tl" text-anchor="end">0.6</text>
<text x="574.9" y="254.2" class="tl" text-anchor="end">0.7</text>
<text x="696.8" y="422.7" class="al" text-anchor="middle" textLength="27" lengthAdjust="spacingAndGlyphs">Constraint density</text>
<text transform="translate(568,331.35) rotate(-90)" class="yl" text-anchor="middle" textLength="45" lengthAdjust="spacingAndGlyphs">Retrieval rate of stable state</text>
<polyline points="589.81,256.7 599.32,299.9 608.83,351.88 618.34,372.12 627.85,387.88 637.36,394.85 646.87,397.77 656.38,399.35 665.89,402.27 675.4,403.4 684.91,404.07 694.42,404.07 703.93,404.07 713.44,403.85 722.95,404.07 732.46,404.07 741.97,402.95 751.48,401.38 760.99,403.18 770.5,403.4" class="ln g"/>
<g class="mk gm"><circle cx="589.81" cy="256.7" r="0.9"/><circle cx="599.32" cy="299.9" r="0.9"/><circle cx="608.83" cy="351.88" r="0.9"/><circle cx="618.34" cy="372.12" r="0.9"/><circle cx="627.85" cy="387.88" r="0.9"/><circle cx="637.36" cy="394.85" r="0.9"/><circle cx="646.87" cy="397.77" r="0.9"/><circle cx="656.38" cy="399.35" r="0.9"/><circle cx="665.89" cy="402.27" r="0.9"/><circle cx="675.4" cy="403.4" r="0.9"/><circle cx="684.91" cy="404.07" r="0.9"/><circle cx="694.42" cy="404.07" r="0.9"/><circle cx="703.93" cy="404.07" r="0.9"/><circle cx="713.44" cy="403.85" r="0.9"/><circle cx="722.95" cy="404.07" r="0.9"/><circle cx="732.46" cy="404.07" r="0.9"/><circle cx="741.97" cy="402.95" r="0.9"/><circle cx="751.48" cy="401.38" r="0.9"/><circle cx="760.99" cy="403.18" r="0.9"/><circle cx="770.5" cy="403.4" r="0.9"/></g>
<polyline points="589.81,255.35 599.32,298.32 608.83,350.3 618.34,370.55 627.85,387.2 637.36,391.02 646.87,396.43 656.38,398.22 665.89,401.38 675.4,402.95 684.91,403.18 694.42,403.18 703.93,403.4 713.44,402.95 722.95,403.18 732.46,403.4 741.97,401.82 751.48,400.47 760.99,402.5 770.5,402.95" class="ln r"/>
<g class="mk rm"><circle cx="589.81" cy="255.35" r="0.9"/><circle cx="599.32" cy="298.32" r="0.9"/><circle cx="608.83" cy="350.3" r="0.9"/><circle cx="618.34" cy="370.55" r="0.9"/><circle cx="627.85" cy="387.2" r="0.9"/><circle cx="637.36" cy="391.02" r="0.9"/><circle cx="646.87" cy="396.43" r="0.9"/><circle cx="656.38" cy="398.22" r="0.9"/><circle cx="665.89" cy="401.38" r="0.9"/><circle cx="675.4" cy="402.95" r="0.9"/><circle cx="684.91" cy="403.18" r="0.9"/><circle cx="694.42" cy="403.18" r="0.9"/><circle cx="703.93" cy="403.4" r="0.9"/><circle cx="713.44" cy="402.95" r="0.9"/><circle cx="722.95" cy="403.18" r="0.9"/><circle cx="732.46" cy="403.4" r="0.9"/><circle cx="741.97" cy="401.82" r="0.9"/><circle cx="751.48" cy="400.47" r="0.9"/><circle cx="760.99" cy="402.5" r="0.9"/><circle cx="770.5" cy="402.95" r="0.9"/></g>
<polyline points="589.81,301.48 599.32,357.5 608.83,382.93 618.34,393.27 627.85,401.38 637.36,402.95 646.87,404.97 656.38,405.65 665.89,407 675.4,407.22 684.91,407.45 694.42,407.45 703.93,407.45 713.44,407.22 722.95,407.22 732.46,407.45 741.97,406.55 751.48,405.65 760.99,407 770.5,407" class="ln b"/>
<g class="mk bm"><circle cx="589.81" cy="301.48" r="0.9"/><circle cx="599.32" cy="357.5" r="0.9"/><circle cx="608.83" cy="382.93" r="0.9"/><circle cx="618.34" cy="393.27" r="0.9"/><circle cx="627.85" cy="401.38" r="0.9"/><circle cx="637.36" cy="402.95" r="0.9"/><circle cx="646.87" cy="404.97" r="0.9"/><circle cx="656.38" cy="405.65" r="0.9"/><circle cx="665.89" cy="407" r="0.9"/><circle cx="675.4" cy="407.22" r="0.9"/><circle cx="684.91" cy="407.45" r="0.9"/><circle cx="694.42" cy="407.45" r="0.9"/><circle cx="703.93" cy="407.45" r="0.9"/><circle cx="713.44" cy="407.22" r="0.9"/><circle cx="722.95" cy="407.22" r="0.9"/><circle cx="732.46" cy="407.45" r="0.9"/><circle cx="741.97" cy="406.55" r="0.9"/><circle cx="751.48" cy="405.65" r="0.9"/><circle cx="760.99" cy="407" r="0.9"/><circle cx="770.5" cy="407" r="0.9"/></g>
<line x1="57.45" y1="483.2" x2="57.45" y2="641" class="gr"/>
<line x1="76.6" y1="483.2" x2="76.6" y2="641" class="gr"/>
<line x1="95.75" y1="483.2" x2="95.75" y2="641" class="gr"/>
<line x1="114.9" y1="483.2" x2="114.9" y2="641" class="gr"/>
<line x1="134.05" y1="483.2" x2="134.05" y2="641" class="gr"/>
<line x1="153.2" y1="483.2" x2="153.2" y2="641" class="gr"/>
<line x1="172.35" y1="483.2" x2="172.35" y2="641" class="gr"/>
<line x1="191.5" y1="483.2" x2="191.5" y2="641" class="gr"/>
<line x1="210.65" y1="483.2" x2="210.65" y2="641" class="gr"/>
<line x1="229.8" y1="483.2" x2="229.8" y2="641" class="gr"/>
<line x1="38.3" y1="618.46" x2="229.8" y2="618.46" class="gr"/>
<line x1="38.3" y1="595.91" x2="229.8" y2="595.91" class="gr"/>
<line x1="38.3" y1="573.37" x2="229.8" y2="573.37" class="gr"/>
<line x1="38.3" y1="550.83" x2="229.8" y2="550.83" class="gr"/>
<line x1="38.3" y1="528.29" x2="229.8" y2="528.29" class="gr"/>
<line x1="38.3" y1="505.74" x2="229.8" y2="505.74" class="gr"/>
<line x1="38.3" y1="483.2" x2="229.8" y2="483.2" class="gr"/>
<path d="M38.3 483.2H229.8V641" class="bx"/>
<path d="M38.3 483.2V641H229.8" class="ax"/>
<path d="M38.3 641v5M57.45 641v5M76.6 641v5M95.75 641v5M114.9 641v5M134.05 641v5M153.2 641v5M172.35 641v5M191.5 641v5M210.65 641v5M229.8 641v5M38.3 641h-5M38.3 618.46h-5M38.3 595.91h-5M38.3 573.37h-5M38.3 550.83h-5M38.3 528.29h-5M38.3 505.74h-5M38.3 483.2h-5" class="tk"/>
<text x="38.7" y="651.3" class="tl" text-anchor="middle">0</text>
<text x="57.85" y="651.3" class="tl" text-anchor="middle">0.2</text>
<text x="77" y="651.3" class="tl" text-anchor="middle">0.4</text>
<text x="96.15" y="651.3" class="tl" text-anchor="middle">0.6</text>
<text x="115.3" y="651.3" class="tl" text-anchor="middle">0.8</text>
<text x="134.45" y="651.3" class="tl" text-anchor="middle">1</text>
<text x="153.6" y="651.3" class="tl" text-anchor="middle">1.2</text>
<text x="172.75" y="651.3" class="tl" text-anchor="middle">1.4</text>
<text x="191.9" y="651.3" class="tl" text-anchor="middle">1.6</text>
<text x="211.05" y="651.3" class="tl" text-anchor="middle">1.8</text>
<text x="230.2" y="651.3" class="tl" text-anchor="middle">2</text>
<text x="32.9" y="643" class="tl" text-anchor="end">0</text>
<text x="32.9" y="620.46" class="tl" text-anchor="end">0.1</text>
<text x="32.9" y="597.91" class="tl" text-anchor="end">0.2</text>
<text x="32.9" y="575.37" class="tl" text-anchor="end">0.3</text>
<text x="32.9" y="552.83" class="tl" text-anchor="end">0.4</text>
<text x="32.9" y="530.29" class="tl" text-anchor="end">0.5</text>
<text x="32.9" y="507.74" class="tl" text-anchor="end">0.6</text>
<text x="32.9" y="485.2" class="tl" text-anchor="end">0.7</text>
<text x="154.8" y="654" class="al" text-anchor="middle" textLength="27" lengthAdjust="spacingAndGlyphs">Constraint density</text>
<text transform="translate(26,562.5) rotate(-90)" class="yl" text-anchor="middle" textLength="45" lengthAdjust="spacingAndGlyphs">Retrieval rate of stable state</text>
<polyline points="47.88,505.74 57.45,572.92 67.03,603.35 76.6,612.37 86.17,628.83 95.75,631.08 105.33,632.88 114.9,635.82 124.47,636.72 134.05,636.94 143.62,637.62 153.2,638.29 162.78,638.29 172.35,638.29 181.93,638.29 191.5,637.84 201.07,637.17 210.65,638.75 220.23,636.04 229.8,637.17" class="ln g"/>
<g class="mk gm"><circle cx="47.88" cy="505.74" r="0.9"/><circle cx="57.45" cy="572.92" r="0.9"/><circle cx="67.03" cy="603.35" r="0.9"/><circle cx="76.6" cy="612.37" r="0.9"/><circle cx="86.17" cy="628.83" r="0.9"/><circle cx="95.75" cy="631.08" r="0.9"/><circle cx="105.33" cy="632.88" r="0.9"/><circle cx="114.9" cy="635.82" r="0.9"/><circle cx="124.47" cy="636.72" r="0.9"/><circle cx="134.05" cy="636.94" r="0.9"/><circle cx="143.62" cy="637.62" r="0.9"/><circle cx="153.2" cy="638.29" r="0.9"/><circle cx="162.78" cy="638.29" r="0.9"/><circle cx="172.35" cy="638.29" r="0.9"/><circle cx="181.93" cy="638.29" r="0.9"/><circle cx="191.5" cy="637.84" r="0.9"/><circle cx="201.07" cy="637.17" r="0.9"/><circle cx="210.65" cy="638.75" r="0.9"/><circle cx="220.23" cy="636.04" r="0.9"/><circle cx="229.8" cy="637.17" r="0.9"/></g>
<polyline points="47.88,505.29 57.45,564.13 67.03,600.87 76.6,610.79 86.17,628.15 95.75,630.18 105.33,632.21 114.9,635.14 124.47,636.04 134.05,636.27 143.62,636.94 153.2,637.84 162.78,637.62 172.35,637.62 181.93,637.62 191.5,637.17 201.07,636.27 210.65,638.29 220.23,634.46 229.8,636.27" class="ln r"/>
<g class="mk rm"><circle cx="47.88" cy="505.29" r="0.9"/><circle cx="57.45" cy="564.13" r="0.9"/><circle cx="67.03" cy="600.87" r="0.9"/><circle cx="76.6" cy="610.79" r="0.9"/><circle cx="86.17" cy="628.15" r="0.9"/><circle cx="95.75" cy="630.18" r="0.9"/><circle cx="105.33" cy="632.21" r="0.9"/><circle cx="114.9" cy="635.14" r="0.9"/><circle cx="124.47" cy="636.04" r="0.9"/><circle cx="134.05" cy="636.27" r="0.9"/><circle cx="143.62" cy="636.94" r="0.9"/><circle cx="153.2" cy="637.84" r="0.9"/><circle cx="162.78" cy="637.62" r="0.9"/><circle cx="172.35" cy="637.62" r="0.9"/><circle cx="181.93" cy="637.62" r="0.9"/><circle cx="191.5" cy="637.17" r="0.9"/><circle cx="201.07" cy="636.27" r="0.9"/><circle cx="210.65" cy="638.29" r="0.9"/><circle cx="220.23" cy="634.46" r="0.9"/><circle cx="229.8" cy="636.27" r="0.9"/></g>
<polyline points="47.88,560.3 57.45,603.35 67.03,621.61 76.6,626.57 86.17,636.04 95.75,636.72 105.33,637.62 114.9,639.2 124.47,639.42 134.05,639.42 143.62,639.42 153.2,639.65 162.78,639.65 172.35,639.65 181.93,639.65 191.5,639.65 201.07,639.2 210.65,640.1 220.23,637.84 229.8,638.75" class="ln b"/>
<g class="mk bm"><circle cx="47.88" cy="560.3" r="0.9"/><circle cx="57.45" cy="603.35" r="0.9"/><circle cx="67.03" cy="621.61" r="0.9"/><circle cx="76.6" cy="626.57" r="0.9"/><circle cx="86.17" cy="636.04" r="0.9"/><circle cx="95.75" cy="636.72" r="0.9"/><circle cx="105.33" cy="637.62" r="0.9"/><circle cx="114.9" cy="639.2" r="0.9"/><circle cx="124.47" cy="639.42" r="0.9"/><circle cx="134.05" cy="639.42" r="0.9"/><circle cx="143.62" cy="639.42" r="0.9"/><circle cx="153.2" cy="639.65" r="0.9"/><circle cx="162.78" cy="639.65" r="0.9"/><circle cx="172.35" cy="639.65" r="0.9"/><circle cx="181.93" cy="639.65" r="0.9"/><circle cx="191.5" cy="639.65" r="0.9"/><circle cx="201.07" cy="639.2" r="0.9"/><circle cx="210.65" cy="640.1" r="0.9"/><circle cx="220.23" cy="637.84" r="0.9"/><circle cx="229.8" cy="638.75" r="0.9"/></g>
<line x1="329.45" y1="482.6" x2="329.45" y2="641" class="gr"/>
<line x1="348.6" y1="482.6" x2="348.6" y2="641" class="gr"/>
<line x1="367.75" y1="482.6" x2="367.75" y2="641" class="gr"/>
<line x1="386.9" y1="482.6" x2="386.9" y2="641" class="gr"/>
<line x1="406.05" y1="482.6" x2="406.05" y2="641" class="gr"/>
<line x1="425.2" y1="482.6" x2="425.2" y2="641" class="gr"/>
<line x1="444.35" y1="482.6" x2="444.35" y2="641" class="gr"/>
<line x1="463.5" y1="482.6" x2="463.5" y2="641" class="gr"/>
<line x1="482.65" y1="482.6" x2="482.65" y2="641" class="gr"/>
<line x1="501.8" y1="482.6" x2="501.8" y2="641" class="gr"/>
<line x1="310.3" y1="614.6" x2="501.8" y2="614.6" class="gr"/>
<line x1="310.3" y1="588.2" x2="501.8" y2="588.2" class="gr"/>
<line x1="310.3" y1="561.8" x2="501.8" y2="561.8" class="gr"/>
<line x1="310.3" y1="535.4" x2="501.8" y2="535.4" class="gr"/>
<line x1="310.3" y1="509" x2="501.8" y2="509" class="gr"/>
<line x1="310.3" y1="482.6" x2="501.8" y2="482.6" class="gr"/>
<path d="M310.3 482.6H501.8V641" class="bx"/>
<path d="M310.3 482.6V641H501.8" class="ax"/>
<path d="M310.3 641v5M329.45 641v5M348.6 641v5M367.75 641v5M386.9 641v5M406.05 641v5M425.2 641v5M444.35 641v5M463.5 641v5M482.65 641v5M501.8 641v5M310.3 641h-5M310.3 614.6h-5M310.3 588.2h-5M310.3 561.8h-5M310.3 535.4h-5M310.3 509h-5M310.3 482.6h-5" class="tk"/>
<text x="310.7" y="651.3" class="tl" text-anchor="middle">0</text>
<text x="329.85" y="651.3" class="tl" text-anchor="middle">0.2</text>
<text x="349" y="651.3" class="tl" text-anchor="middle">0.4</text>
<text x="368.15" y="651.3" class="tl" text-anchor="middle">0.6</text>
<text x="387.3" y="651.3" class="tl" text-anchor="middle">0.8</text>
<text x="406.45" y="651.3" class="tl" text-anchor="middle">1</text>
<text x="425.6" y="651.3" class="tl" text-anchor="middle">1.2</text>
<text x="444.75" y="651.3" class="tl" text-anchor="middle">1.4</text>
<text x="463.9" y="651.3" class="tl" text-anchor="middle">1.6</text>
<text x="483.05" y="651.3" class="tl" text-anchor="middle">1.8</text>
<text x="502.2" y="651.3" class="tl" text-anchor="middle">2</text>
<text x="304.9" y="643" class="tl" text-anchor="end">0</text>
<text x="304.9" y="616.6" class="tl" text-anchor="end">0.1</text>
<text x="304.9" y="590.2" class="tl" text-anchor="end">0.2</text>
<text x="304.9" y="563.8" class="tl" text-anchor="end">0.3</text>
<text x="304.9" y="537.4" class="tl" text-anchor="end">0.4</text>
<text x="304.9" y="511" class="tl" text-anchor="end">0.5</text>
<text x="304.9" y="484.6" class="tl" text-anchor="end">0.6</text>
<text x="426.8" y="654" class="al" text-anchor="middle" textLength="27" lengthAdjust="spacingAndGlyphs">Constraint density</text>
<text transform="translate(298,562.2) rotate(-90)" class="yl" text-anchor="middle" textLength="45" lengthAdjust="spacingAndGlyphs">Retrieval rate of stable state</text>
<polyline points="319.88,488.67 329.45,568.14 339.03,607.21 348.6,624.63 358.18,632.55 367.75,635.72 377.33,636.78 386.9,637.83 396.48,638.36 406.05,638.89 415.62,638.89 425.2,638.89 434.78,638.89 444.35,638.62 453.93,638.36 463.5,639.15 473.08,639.15 482.65,639.15 492.23,639.68 501.8,637.57" class="ln g"/>
<g class="mk gm"><circle cx="319.88" cy="488.67" r="0.9"/><circle cx="329.45" cy="568.14" r="0.9"/><circle cx="339.03" cy="607.21" r="0.9"/><circle cx="348.6" cy="624.63" r="0.9"/><circle cx="358.18" cy="632.55" r="0.9"/><circle cx="367.75" cy="635.72" r="0.9"/><circle cx="377.33" cy="636.78" r="0.9"/><circle cx="386.9" cy="637.83" r="0.9"/><circle cx="396.48" cy="638.36" r="0.9"/><circle cx="406.05" cy="638.89" r="0.9"/><circle cx="415.62" cy="638.89" r="0.9"/><circle cx="425.2" cy="638.89" r="0.9"/><circle cx="434.78" cy="638.89" r="0.9"/><circle cx="444.35" cy="638.62" r="0.9"/><circle cx="453.93" cy="638.36" r="0.9"/><circle cx="463.5" cy="639.15" r="0.9"/><circle cx="473.08" cy="639.15" r="0.9"/><circle cx="482.65" cy="639.15" r="0.9"/><circle cx="492.23" cy="639.68" r="0.9"/><circle cx="501.8" cy="637.57" r="0.9"/></g>
<polyline points="319.88,488.14 329.45,567.34 339.03,605.89 348.6,623.58 358.18,632.02 367.75,635.19 377.33,636.25 386.9,637.3 396.48,637.83 406.05,638.62 415.62,638.62 425.2,638.62 434.78,638.62 444.35,638.1 453.93,637.83 463.5,638.89 473.08,638.89 482.65,638.89 492.23,639.42 501.8,635.46" class="ln r"/>
<g class="mk rm"><circle cx="319.88" cy="488.14" r="0.9"/><circle cx="329.45" cy="567.34" r="0.9"/><circle cx="339.03" cy="605.89" r="0.9"/><circle cx="348.6" cy="623.58" r="0.9"/><circle cx="358.18" cy="632.02" r="0.9"/><circle cx="367.75" cy="635.19" r="0.9"/><circle cx="377.33" cy="636.25" r="0.9"/><circle cx="386.9" cy="637.3" r="0.9"/><circle cx="396.48" cy="637.83" r="0.9"/><circle cx="406.05" cy="638.62" r="0.9"/><circle cx="415.62" cy="638.62" r="0.9"/><circle cx="425.2" cy="638.62" r="0.9"/><circle cx="434.78" cy="638.62" r="0.9"/><circle cx="444.35" cy="638.1" r="0.9"/><circle cx="453.93" cy="637.83" r="0.9"/><circle cx="463.5" cy="638.89" r="0.9"/><circle cx="473.08" cy="638.89" r="0.9"/><circle cx="482.65" cy="638.89" r="0.9"/><circle cx="492.23" cy="639.42" r="0.9"/><circle cx="501.8" cy="635.46" r="0.9"/></g>
<polyline points="319.88,550.98 329.45,604.57 339.03,626.48 348.6,633.87 358.18,637.83 367.75,639.15 377.33,639.68 386.9,639.94 396.48,639.94 406.05,639.94 415.62,639.94 425.2,639.94 434.78,639.94 444.35,639.94 453.93,639.94 463.5,639.94 473.08,639.94 482.65,639.94 492.23,639.94 501.8,638.89" class="ln b"/>
<g class="mk bm"><circle cx="319.88" cy="550.98" r="0.9"/><circle cx="329.45" cy="604.57" r="0.9"/><circle cx="339.03" cy="626.48" r="0.9"/><circle cx="348.6" cy="633.87" r="0.9"/><circle cx="358.18" cy="637.83" r="0.9"/><circle cx="367.75" cy="639.15" r="0.9"/><circle cx="377.33" cy="639.68" r="0.9"/><circle cx="386.9" cy="639.94" r="0.9"/><circle cx="396.48" cy="639.94" r="0.9"/><circle cx="406.05" cy="639.94" r="0.9"/><circle cx="415.62" cy="639.94" r="0.9"/><circle cx="425.2" cy="639.94" r="0.9"/><circle cx="434.78" cy="639.94" r="0.9"/><circle cx="444.35" cy="639.94" r="0.9"/><circle cx="453.93" cy="639.94" r="0.9"/><circle cx="463.5" cy="639.94" r="0.9"/><circle cx="473.08" cy="639.94" r="0.9"/><circle cx="482.65" cy="639.94" r="0.9"/><circle cx="492.23" cy="639.94" r="0.9"/><circle cx="501.8" cy="638.89" r="0.9"/></g>
<line x1="599.45" y1="482.2" x2="599.45" y2="640.3" class="gr"/>
<line x1="618.6" y1="482.2" x2="618.6" y2="640.3" class="gr"/>
<line x1="637.75" y1="482.2" x2="637.75" y2="640.3" class="gr"/>
<line x1="656.9" y1="482.2" x2="656.9" y2="640.3" class="gr"/>
<line x1="676.05" y1="482.2" x2="676.05" y2="640.3" class="gr"/>
<line x1="695.2" y1="482.2" x2="695.2" y2="640.3" class="gr"/>
<line x1="714.35" y1="482.2" x2="714.35" y2="640.3" class="gr"/>
<line x1="733.5" y1="482.2" x2="733.5" y2="640.3" class="gr"/>
<line x1="752.65" y1="482.2" x2="752.65" y2="640.3" class="gr"/>
<line x1="771.8" y1="482.2" x2="771.8" y2="640.3" class="gr"/>
<line x1="580.3" y1="613.95" x2="771.8" y2="613.95" class="gr"/>
<line x1="580.3" y1="587.6" x2="771.8" y2="587.6" class="gr"/>
<line x1="580.3" y1="561.25" x2="771.8" y2="561.25" class="gr"/>
<line x1="580.3" y1="534.9" x2="771.8" y2="534.9" class="gr"/>
<line x1="580.3" y1="508.55" x2="771.8" y2="508.55" class="gr"/>
<line x1="580.3" y1="482.2" x2="771.8" y2="482.2" class="gr"/>
<path d="M580.3 482.2H771.8V640.3" class="bx"/>
<path d="M580.3 482.2V640.3H771.8" class="ax"/>
<path d="M580.3 640.3v5M599.45 640.3v5M618.6 640.3v5M637.75 640.3v5M656.9 640.3v5M676.05 640.3v5M695.2 640.3v5M714.35 640.3v5M733.5 640.3v5M752.65 640.3v5M771.8 640.3v5M580.3 640.3h-5M580.3 613.95h-5M580.3 587.6h-5M580.3 561.25h-5M580.3 534.9h-5M580.3 508.55h-5M580.3 482.2h-5" class="tk"/>
<text x="580.7" y="650.6" class="tl" text-anchor="middle">0</text>
<text x="599.85" y="650.6" class="tl" text-anchor="middle">0.2</text>
<text x="619" y="650.6" class="tl" text-anchor="middle">0.4</text>
<text x="638.15" y="650.6" class="tl" text-anchor="middle">0.6</text>
<text x="657.3" y="650.6" class="tl" text-anchor="middle">0.8</text>
<text x="676.45" y="650.6" class="tl" text-anchor="middle">1</text>
<text x="695.6" y="650.6" class="tl" text-anchor="middle">1.2</text>
<text x="714.75" y="650.6" class="tl" text-anchor="middle">1.4</text>
<text x="733.9" y="650.6" class="tl" text-anchor="middle">1.6</text>
<text x="753.05" y="650.6" class="tl" text-anchor="middle">1.8</text>
<text x="772.2" y="650.6" class="tl" text-anchor="middle">2</text>
<text x="574.9" y="642.3" class="tl" text-anchor="end">0</text>
<text x="574.9" y="615.95" class="tl" text-anchor="end">0.1</text>
<text x="574.9" y="589.6" class="tl" text-anchor="end">0.2</text>
<text x="574.9" y="563.25" class="tl" text-anchor="end">0.3</text>
<text x="574.9" y="536.9" class="tl" text-anchor="end">0.4</text>
<text x="574.9" y="510.55" class="tl" text-anchor="end">0.5</text>
<text x="574.9" y="484.2" class="tl" text-anchor="end">0.6</text>
<text x="696.8" y="653.3" class="al" text-anchor="middle" textLength="27" lengthAdjust="spacingAndGlyphs">Constraint density</text>
<text transform="translate(568,561.65) rotate(-90)" class="yl" text-anchor="middle" textLength="45" lengthAdjust="spacingAndGlyphs">Retrieval rate of stable state</text>
<polyline points="589.88,494.06 599.45,581.28 609.02,614.74 618.6,624.75 628.17,631.6 637.75,635.56 647.32,636.61 656.9,637.4 666.47,637.66 676.05,638.46 685.62,638.46 695.2,638.72 704.77,638.46 714.35,638.46 723.92,638.19 733.5,638.46 743.07,637.14 752.65,638.72 762.22,638.46 771.8,637.14" class="ln g"/>
<g class="mk gm"><circle cx="589.88" cy="494.06" r="0.9"/><circle cx="599.45" cy="581.28" r="0.9"/><circle cx="609.02" cy="614.74" r="0.9"/><circle cx="618.6" cy="624.75" r="0.9"/><circle cx="628.17" cy="631.6" r="0.9"/><circle cx="637.75" cy="635.56" r="0.9"/><circle cx="647.32" cy="636.61" r="0.9"/><circle cx="656.9" cy="637.4" r="0.9"/><circle cx="666.47" cy="637.66" r="0.9"/><circle cx="676.05" cy="638.46" r="0.9"/><circle cx="685.62" cy="638.46" r="0.9"/><circle cx="695.2" cy="638.72" r="0.9"/><circle cx="704.77" cy="638.46" r="0.9"/><circle cx="714.35" cy="638.46" r="0.9"/><circle cx="723.92" cy="638.19" r="0.9"/><circle cx="733.5" cy="638.46" r="0.9"/><circle cx="743.07" cy="637.14" r="0.9"/><circle cx="752.65" cy="638.72" r="0.9"/><circle cx="762.22" cy="638.46" r="0.9"/><circle cx="771.8" cy="637.14" r="0.9"/></g>
<polyline points="589.88,493.53 599.45,579.69 609.02,612.37 618.6,623.17 628.17,631.08 637.75,635.29 647.32,636.35 656.9,637.14 666.47,637.4 676.05,638.19 685.62,638.19 695.2,638.46 704.77,638.19 714.35,638.19 723.92,637.93 733.5,638.19 743.07,636.35 752.65,638.19 762.22,638.19 771.8,635.56" class="ln r"/>
<g class="mk rm"><circle cx="589.88" cy="493.53" r="0.9"/><circle cx="599.45" cy="579.69" r="0.9"/><circle cx="609.02" cy="612.37" r="0.9"/><circle cx="618.6" cy="623.17" r="0.9"/><circle cx="628.17" cy="631.08" r="0.9"/><circle cx="637.75" cy="635.29" r="0.9"/><circle cx="647.32" cy="636.35" r="0.9"/><circle cx="656.9" cy="637.14" r="0.9"/><circle cx="666.47" cy="637.4" r="0.9"/><circle cx="676.05" cy="638.19" r="0.9"/><circle cx="685.62" cy="638.19" r="0.9"/><circle cx="695.2" cy="638.46" r="0.9"/><circle cx="704.77" cy="638.19" r="0.9"/><circle cx="714.35" cy="638.19" r="0.9"/><circle cx="723.92" cy="637.93" r="0.9"/><circle cx="733.5" cy="638.19" r="0.9"/><circle cx="743.07" cy="636.35" r="0.9"/><circle cx="752.65" cy="638.19" r="0.9"/><circle cx="762.22" cy="638.19" r="0.9"/><circle cx="771.8" cy="635.56" r="0.9"/></g>
<polyline points="589.88,556.24 599.45,612.9 609.02,628.71 618.6,633.45 628.17,636.61 637.75,638.46 647.32,638.98 656.9,638.98 666.47,638.98 676.05,638.98 685.62,638.98 695.2,638.98 704.77,638.98 714.35,638.98 723.92,638.98 733.5,638.98 743.07,637.93 752.65,638.98 762.22,638.72 771.8,640.04" class="ln b"/>
<g class="mk bm"><circle cx="589.88" cy="556.24" r="0.9"/><circle cx="599.45" cy="612.9" r="0.9"/><circle cx="609.02" cy="628.71" r="0.9"/><circle cx="618.6" cy="633.45" r="0.9"/><circle cx="628.17" cy="636.61" r="0.9"/><circle cx="637.75" cy="638.46" r="0.9"/><circle cx="647.32" cy="638.98" r="0.9"/><circle cx="656.9" cy="638.98" r="0.9"/><circle cx="666.47" cy="638.98" r="0.9"/><circle cx="676.05" cy="638.98" r="0.9"/><circle cx="685.62" cy="638.98" r="0.9"/><circle cx="695.2" cy="638.98" r="0.9"/><circle cx="704.77" cy="638.98" r="0.9"/><circle cx="714.35" cy="638.98" r="0.9"/><circle cx="723.92" cy="638.98" r="0.9"/><circle cx="733.5" cy="638.98" r="0.9"/><circle cx="743.07" cy="637.93" r="0.9"/><circle cx="752.65" cy="638.98" r="0.9"/><circle cx="762.22" cy="638.72" r="0.9"/><circle cx="771.8" cy="640.04" r="0.9"/></g>
<line x1="328.45" y1="709.2" x2="328.45" y2="868" class="gr"/>
<line x1="347.6" y1="709.2" x2="347.6" y2="868" class="gr"/>
<line x1="366.75" y1="709.2" x2="366.75" y2="868" class="gr"/>
<line x1="385.9" y1="709.2" x2="385.9" y2="868" class="gr"/>
<line x1="405.05" y1="709.2" x2="405.05" y2="868" class="gr"/>
<line x1="424.2" y1="709.2" x2="424.2" y2="868" class="gr"/>
<line x1="443.35" y1="709.2" x2="443.35" y2="868" class="gr"/>
<line x1="462.5" y1="709.2" x2="462.5" y2="868" class="gr"/>
<line x1="481.65" y1="709.2" x2="481.65" y2="868" class="gr"/>
<line x1="500.8" y1="709.2" x2="500.8" y2="868" class="gr"/>
<line x1="309.3" y1="841.53" x2="500.8" y2="841.53" class="gr"/>
<line x1="309.3" y1="815.07" x2="500.8" y2="815.07" class="gr"/>
<line x1="309.3" y1="788.6" x2="500.8" y2="788.6" class="gr"/>
<line x1="309.3" y1="762.13" x2="500.8" y2="762.13" class="gr"/>
<line x1="309.3" y1="735.67" x2="500.8" y2="735.67" class="gr"/>
<line x1="309.3" y1="709.2" x2="500.8" y2="709.2" class="gr"/>
<path d="M309.3 709.2H500.8V868" class="bx"/>
<path d="M309.3 709.2V868H500.8" class="ax"/>
<path d="M309.3 868v5M328.45 868v5M347.6 868v5M366.75 868v5M385.9 868v5M405.05 868v5M424.2 868v5M443.35 868v5M462.5 868v5M481.65 868v5M500.8 868v5M309.3 868h-5M309.3 841.53h-5M309.3 815.07h-5M309.3 788.6h-5M309.3 762.13h-5M309.3 735.67h-5M309.3 709.2h-5" class="tk"/>
<text x="309.7" y="878.3" class="tl" text-anchor="middle">0</text>
<text x="328.85" y="878.3" class="tl" text-anchor="middle">0.2</text>
<text x="348" y="878.3" class="tl" text-anchor="middle">0.4</text>
<text x="367.15" y="878.3" class="tl" text-anchor="middle">0.6</text>
<text x="386.3" y="878.3" class="tl" text-anchor="middle">0.8</text>
<text x="405.45" y="878.3" class="tl" text-anchor="middle">1</text>
<text x="424.6" y="878.3" class="tl" text-anchor="middle">1.2</text>
<text x="443.75" y="878.3" class="tl" text-anchor="middle">1.4</text>
<text x="462.9" y="878.3" class="tl" text-anchor="middle">1.6</text>
<text x="482.05" y="878.3" class="tl" text-anchor="middle">1.8</text>
<text x="501.2" y="878.3" class="tl" text-anchor="middle">2</text>
<text x="303.9" y="870" class="tl" text-anchor="end">0</text>
<text x="303.9" y="843.53" class="tl" text-anchor="end">0.1</text>
<text x="303.9" y="817.07" class="tl" text-anchor="end">0.2</text>
<text x="303.9" y="790.6" class="tl" text-anchor="end">0.3</text>
<text x="303.9" y="764.13" class="tl" text-anchor="end">0.4</text>
<text x="303.9" y="737.67" class="tl" text-anchor="end">0.5</text>
<text x="303.9" y="711.2" class="tl" text-anchor="end">0.6</text>
<text x="425.8" y="881" class="al" text-anchor="middle" textLength="27" lengthAdjust="spacingAndGlyphs">Constraint density</text>
<text transform="translate(297,789) rotate(-90)" class="yl" text-anchor="middle" textLength="45" lengthAdjust="spacingAndGlyphs">Retrieval rate of stable state</text>
<polyline points="318.88,732.49 328.45,819.83 338.03,849.47 347.6,859 357.18,863.5 366.75,865.09 376.33,866.15 385.9,866.68 395.48,866.94 405.05,866.94 414.62,866.94 424.2,866.94 433.78,866.94 443.35,866.94 452.93,866.94 462.5,866.94 472.08,866.15 481.65,866.15 491.23,866.68 500.8,866.68" class="ln g"/>
<g class="mk gm"><circle cx="318.88" cy="732.49" r="0.9"/><circle cx="328.45" cy="819.83" r="0.9"/><circle cx="338.03" cy="849.47" r="0.9"/><circle cx="347.6" cy="859" r="0.9"/><circle cx="357.18" cy="863.5" r="0.9"/><circle cx="366.75" cy="865.09" r="0.9"/><circle cx="376.33" cy="866.15" r="0.9"/><circle cx="385.9" cy="866.68" r="0.9"/><circle cx="395.48" cy="866.94" r="0.9"/><circle cx="405.05" cy="866.94" r="0.9"/><circle cx="414.62" cy="866.94" r="0.9"/><circle cx="424.2" cy="866.94" r="0.9"/><circle cx="433.78" cy="866.94" r="0.9"/><circle cx="443.35" cy="866.94" r="0.9"/><circle cx="452.93" cy="866.94" r="0.9"/><circle cx="462.5" cy="866.94" r="0.9"/><circle cx="472.08" cy="866.15" r="0.9"/><circle cx="481.65" cy="866.15" r="0.9"/><circle cx="491.23" cy="866.68" r="0.9"/><circle cx="500.8" cy="866.68" r="0.9"/></g>
<polyline points="318.88,731.96 328.45,819.04 338.03,848.68 347.6,858.47 357.18,862.97 366.75,864.82 376.33,865.88 385.9,866.41 395.48,866.68 405.05,866.68 414.62,866.68 424.2,866.68 433.78,866.68 443.35,866.68 452.93,866.68 462.5,866.68 472.08,865.88 481.65,865.88 491.23,866.41 500.8,866.41" class="ln r"/>
<g class="mk rm"><circle cx="318.88" cy="731.96" r="0.9"/><circle cx="328.45" cy="819.04" r="0.9"/><circle cx="338.03" cy="848.68" r="0.9"/><circle cx="347.6" cy="858.47" r="0.9"/><circle cx="357.18" cy="862.97" r="0.9"/><circle cx="366.75" cy="864.82" r="0.9"/><circle cx="376.33" cy="865.88" r="0.9"/><circle cx="385.9" cy="866.41" r="0.9"/><circle cx="395.48" cy="866.68" r="0.9"/><circle cx="405.05" cy="866.68" r="0.9"/><circle cx="414.62" cy="866.68" r="0.9"/><circle cx="424.2" cy="866.68" r="0.9"/><circle cx="433.78" cy="866.68" r="0.9"/><circle cx="443.35" cy="866.68" r="0.9"/><circle cx="452.93" cy="866.68" r="0.9"/><circle cx="462.5" cy="866.68" r="0.9"/><circle cx="472.08" cy="865.88" r="0.9"/><circle cx="481.65" cy="865.88" r="0.9"/><circle cx="491.23" cy="866.41" r="0.9"/><circle cx="500.8" cy="866.41" r="0.9"/></g>
<polyline points="318.88,800.51 328.45,847.09 338.03,860.32 347.6,864.29 357.18,866.15 366.75,866.94 376.33,866.94 385.9,866.94 395.48,866.94 405.05,866.94 414.62,866.94 424.2,866.94 433.78,866.94 443.35,866.94 452.93,866.94 462.5,866.94 472.08,866.94 481.65,866.94 491.23,866.94 500.8,866.94" class="ln b"/>
<g class="mk bm"><circle cx="318.88" cy="800.51" r="0.9"/><circle cx="328.45" cy="847.09" r="0.9"/><circle cx="338.03" cy="860.32" r="0.9"/><circle cx="347.6" cy="864.29" r="0.9"/><circle cx="357.18" cy="866.15" r="0.9"/><circle cx="366.75" cy="866.94" r="0.9"/><circle cx="376.33" cy="866.94" r="0.9"/><circle cx="385.9" cy="866.94" r="0.9"/><circle cx="395.48" cy="866.94" r="0.9"/><circle cx="405.05" cy="866.94" r="0.9"/><circle cx="414.62" cy="866.94" r="0.9"/><circle cx="424.2" cy="866.94" r="0.9"/><circle cx="433.78" cy="866.94" r="0.9"/><circle cx="443.35" cy="866.94" r="0.9"/><circle cx="452.93" cy="866.94" r="0.9"/><circle cx="462.5" cy="866.94" r="0.9"/><circle cx="472.08" cy="866.94" r="0.9"/><circle cx="481.65" cy="866.94" r="0.9"/><circle cx="491.23" cy="866.94" r="0.9"/><circle cx="500.8" cy="866.94" r="0.9"/></g>
<rect x="155.5" y="29.5" width="73.3" height="13" fill="#fff" stroke="#d4d4d4" stroke-width="0.8"/>
<line x1="156.5" y1="32.1" x2="165" y2="32.1" class="ln b"/>
<g class="mk bm"><circle cx="160.7" cy="32.1" r="0.9"/></g>
<text x="166.5" y="33.800000000000004" class="lg" textLength="56" lengthAdjust="spacingAndGlyphs">Retrieval rate of stable state (HNN,OST-KS)</text>
<line x1="156.5" y1="36.2" x2="165" y2="36.2" class="ln g"/>
<g class="mk gm"><circle cx="160.7" cy="36.2" r="0.9"/></g>
<text x="166.5" y="37.900000000000006" class="lg" textLength="57.5" lengthAdjust="spacingAndGlyphs">Retrieval rate of stable state (HNN,OST-SAFC)</text>
<line x1="156.5" y1="40.3" x2="165" y2="40.3" class="ln r"/>
<g class="mk rm"><circle cx="160.7" cy="40.3" r="0.9"/></g>
<text x="166.5" y="42.0" class="lg" textLength="59.5" lengthAdjust="spacingAndGlyphs">Retrieval rate of stable state (HNN,OST-CSAFC)</text>
<text transform="translate(242.5,409.4) rotate(90)" class="al" text-anchor="middle" textLength="30.5" lengthAdjust="spacingAndGlyphs">Number of neurons</text>
<text transform="translate(233.6,416.5) rotate(-90)" class="tl" text-anchor="middle" style="font-size:3.6px">100</text>
</g>
<rect x="8" y="9" width="248" height="195" rx="0.8" class="fr"/>
<rect x="279" y="8" width="247" height="195" rx="0.8" class="fr"/>
<rect x="549" y="9" width="248" height="195" rx="0.8" class="fr"/>
<rect x="7" y="238" width="248" height="195" rx="0.8" class="fr"/>
<rect x="278" y="238" width="248" height="195" rx="0.8" class="fr"/>
<rect x="548" y="237" width="247" height="195" rx="0.8" class="fr"/>
<rect x="6" y="468" width="248" height="195" rx="0.8" class="fr"/>
<rect x="278" y="468" width="248" height="195" rx="0.8" class="fr"/>
<rect x="548" y="467" width="248" height="195" rx="0.8" class="fr"/>
<rect x="277" y="694" width="248" height="196" rx="0.8" class="fr"/>
</svg>
<div class="cap" style="left:101.9px;top:213px">a) <i>NN</i>=10</div>
<div class="cap" style="left:372.2px;top:215px">b) <i>NN</i>=20</div>
<div class="cap" style="left:636.5px;top:215px">c) <i>NN</i>=30</div>
<div class="cap" style="left:102px;top:445px">d) <i>NN</i>=40</div>
<div class="cap" style="left:372.4px;top:443.7px">e) <i>NN</i>=50</div>
<div class="cap" style="left:636px;top:445.2px">f) <i>NN</i>=60</div>
<div class="cap" style="left:102.2px;top:676.4px">g) <i>NN</i>=70</div>
<div class="cap" style="left:371.2px;top:674px">h) <i>NN</i>=80</div>
<div class="cap" style="left:638px;top:675.4px">i) <i>NN</i>=90</div>
<div class="cap" style="left:371.7px;top:902.5px">g) <i>NN</i>=100</div>
</body></html>
